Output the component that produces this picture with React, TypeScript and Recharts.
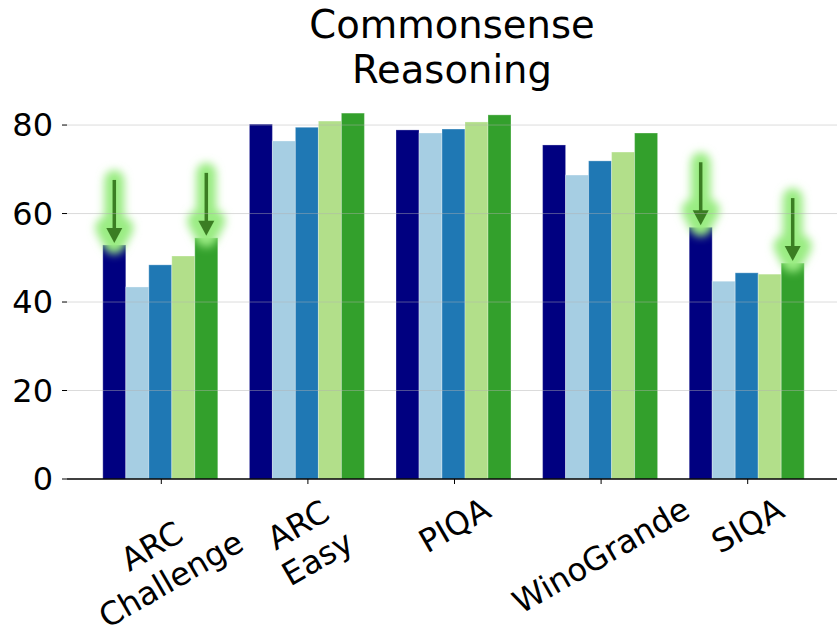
import { BarChart, Bar, XAxis, YAxis, ReferenceLine } from "recharts";

// categories and values
const categories = ["ARC\nChallenge", "ARC\nEasy", "PIQA", "WinoGrande", "SIQA"];
const seriesNames = ["m1", "m2", "m3", "m4", "m5"];
const m1 = [52.9, 80.2, 78.9, 75.5, 56.9];
const m2 = [43.4, 76.4, 78.2, 68.7, 44.7];
const m3 = [48.4, 79.5, 79.1, 71.9, 46.6];
const m4 = [50.4, 80.9, 80.7, 73.9, 46.3];
const m5 = [54.5, 82.7, 82.3, 78.2, 48.8];
const yTicks = [0, 20, 40, 60, 80];
// which bars get a downward arrow (per series, category indices)
const arrowsM1 = [0, 4];
const arrowsM5 = [0, 4];

const colors = ["#000080", "#a6cee3", "#1f78b4", "#b2df8a", "#33a02c"];
const FONT = '"DejaVu Sans", sans-serif';
const FS = 32;

const allSeries = [m1, m2, m3, m4, m5];
const arrowSets = [arrowsM1, [], [], [], arrowsM5];

const data = categories.map((name, i) => {
  const row: any = { name };
  seriesNames.forEach((k, s) => {
    row[k] = allSeries[s][i];
    row[k + "_arrow"] = arrowSets[s].includes(i);
  });
  return row;
});

let ctx: CanvasRenderingContext2D | null = null;
const textWidth = (s: string) => {
  if (!ctx) ctx = document.createElement("canvas").getContext("2d");
  if (!ctx) return s.length * FS * 0.6;
  ctx.font = `${FS}px ${FONT}`;
  return ctx.measureText(s).width;
};

// rotated, multi-line tick label, placed like a rotated text box under the tick
const XTick = (props: any) => {
  const { x, y, payload } = props;
  const lines = String(payload.value).split("\n");
  const w = Math.max(...lines.map(textWidth));
  const lh = 1.2 * FS;
  const h = (lines.length - 1) * lh + 1.164 * FS;
  const th = (30 * Math.PI) / 180;
  const bh = w * Math.sin(th) + h * Math.cos(th);
  const top = y + 6;
  const cy = top + bh / 2;
  return (
    <g transform={`translate(${x},${cy}) rotate(-30)`}>
      <text textAnchor="middle" fontSize={FS} fontFamily={FONT} fill="#000">
        {lines.map((l, i) => (
          <tspan key={i} x={0} y={-h / 2 + 0.928 * FS + i * lh}>
            {l}
          </tspan>
        ))}
      </text>
    </g>
  );
};

const makeShape = (key: string, color: string) => (props: any) => {
  const { x, y, width, height, payload } = props;
  const cx = x + width / 2;
  const tip = y - 2;
  const arrow = payload && payload[key + "_arrow"];
  const arrowPath = `M${cx},${tip - 63} L${cx},${tip - 14}`;
  const head = `${cx - 8},${tip - 15} ${cx + 8},${tip - 15} ${cx},${tip}`;
  return (
    <g>
      <rect x={x} y={y} width={width} height={height} fill={color} stroke="#ffffff" strokeOpacity={0.3} strokeWidth={1} />
      {arrow && (
        <g>
          <g filter="url(#glow)">
            <path d={arrowPath} stroke="#9aec82" strokeWidth={20} strokeLinecap="round" />
            <polygon points={head} fill="#9aec82" stroke="#9aec82" strokeWidth={22} strokeLinejoin="round" />
          </g>
          <path d={arrowPath} stroke="#3b7d23" strokeWidth={3.5} />
          <polygon points={head} fill="#3b7d23" />
        </g>
      )}
    </g>
  );
};

export default function App() {
  return (
    <div style={{ position: "absolute", left: 0, top: 0, width: 837, height: 629, overflow: "hidden", background: "#fff" }}>
      <svg width={0} height={0} style={{ position: "absolute" }}>
        <defs>
          <filter id="glow" x="-200%" y="-50%" width="500%" height="200%">
            <feGaussianBlur stdDeviation={4.5} />
          </filter>
        </defs>
      </svg>
      <div
        style={{
          position: "absolute",
          left: 152,
          top: 2,
          width: 600,
          textAlign: "center",
          fontFamily: FONT,
          fontSize: 38.5,
          lineHeight: "45px",
          color: "#000",
          zIndex: 2,
        }}
      >
        Commonsense
        <br />
        Reasoning
      </div>
      <BarChart
        width={842}
        height={629}
        data={data}
        margin={{ top: 98.5, right: 0, bottom: 0, left: 0 }}
        barCategoryGap={14.8}
        barGap={0}
      >
        <XAxis
          dataKey="name"
          height={150}
          padding={{ left: 21, right: 21 }}
          axisLine={{ stroke: "#000", strokeWidth: 1.3 }}
          tickLine={{ stroke: "#000" }}
          tickSize={5}
          tickMargin={0}
          interval={0}
          tick={<XTick />}
        />
        <YAxis
          width={67}
          domain={[0, 86]}
          ticks={yTicks}
          axisLine={false}
          tickLine={{ stroke: "#000" }}
          tickSize={5}
          tickMargin={9}
          tick={{ fontSize: FS, fontFamily: FONT, fill: "#000" }}
        />
        {seriesNames.map((k, s) => (
          <Bar key={k} dataKey={k} fill={colors[s]} isAnimationActive={false} shape={makeShape(k, colors[s])} />
        ))}
        {yTicks.slice(1).map((t) => (
          <ReferenceLine key={t} y={t} stroke="#b0b0b0" strokeOpacity={0.45} strokeWidth={1} />
        ))}
      </BarChart>
    </div>
  );
}
